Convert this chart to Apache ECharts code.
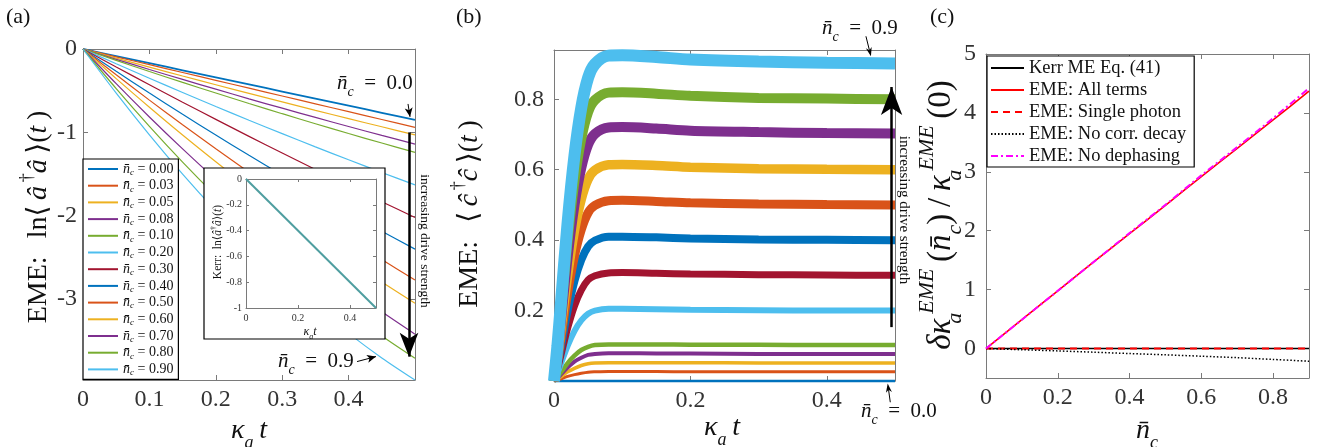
<!DOCTYPE html>
<html><head><meta charset="utf-8">
<script src="https://cdn.jsdelivr.net/npm/echarts@6/dist/echarts.min.js"></script>
<style>html,body{margin:0;padding:0;background:#fff}#c{width:1324px;height:447px}</style>
</head><body><div id="c"></div>
<script>
const FONT = '"Liberation Serif","DejaVu Serif",serif';
const AX = '#7a7a7a', TXT = '#333', INK = '#111';

// ---------- panel (a) ----------
const ncLabels = ['0.00','0.03','0.05','0.08','0.10','0.20','0.30','0.40','0.50','0.60','0.70','0.80','0.90'];
const colors = ['#0072BD','#D95319','#EDB120','#7E2F8E','#77AC30','#4DBEEE','#A2142F','#0072BD','#D95319','#EDB120','#7E2F8E','#77AC30','#4DBEEE'];
const tA = [0,0.05,0.1,0.15,0.2,0.25,0.3,0.35,0.4,0.45,0.5];
const a000 = [0,-0.085,-0.17,-0.255,-0.34,-0.425,-0.51,-0.595,-0.68,-0.765,-0.85];
const a003 = [0,-0.094,-0.188,-0.282,-0.376,-0.47,-0.564,-0.658,-0.752,-0.846,-0.94];
const a005 = [0,-0.109,-0.217,-0.324,-0.429,-0.533,-0.635,-0.736,-0.835,-0.933,-1.03];
const a008 = [0,-0.124,-0.246,-0.365,-0.482,-0.598,-0.710,-0.821,-0.930,-1.036,-1.14];
const a010 = [0,-0.136,-0.270,-0.400,-0.528,-0.654,-0.776,-0.896,-1.014,-1.128,-1.24];
const a020 = [0,-0.177,-0.351,-0.522,-0.689,-0.854,-1.015,-1.174,-1.329,-1.481,-1.63];
const a030 = [0,-0.216,-0.428,-0.638,-0.844,-1.048,-1.248,-1.446,-1.640,-1.832,-2.02];
const a040 = [0,-0.267,-0.528,-0.783,-1.032,-1.275,-1.512,-1.743,-1.968,-2.187,-2.40];
const a050 = [0,-0.310,-0.613,-0.909,-1.197,-1.478,-1.751,-2.017,-2.275,-2.526,-2.77];
const a060 = [0,-0.355,-0.698,-1.031,-1.352,-1.663,-1.962,-2.251,-2.528,-2.795,-3.05];
const a070 = [0,-0.416,-0.815,-1.198,-1.565,-1.915,-2.249,-2.566,-2.867,-3.152,-3.42];
const a080 = [0,-0.475,-0.928,-1.357,-1.762,-2.145,-2.504,-2.841,-3.154,-3.443,-3.71];
const a090 = [0,-0.529,-1.029,-1.500,-1.941,-2.353,-2.735,-3.088,-3.411,-3.705,-3.97];
const aSeries = [a000,a003,a005,a008,a010,a020,a030,a040,a050,a060,a070,a080,a090];
const aXTicks = [0,0.1,0.2,0.3,0.4];
const aYTicks = [0,-1,-2,-3];

// inset (Kerr)
const kerrT = [0,0.5];
const kerrV = [0,-1];
const insXTicks = [0,0.2,0.4];
const insYTicks = [0,-0.2,-0.4,-0.6,-0.8,-1];

// ---------- panel (b) ----------
const tB = [0,0.005,0.01,0.02,0.03,0.04,0.05,0.06,0.08,0.1,0.15,0.2,0.3,0.4,0.5];
const b000 = [0,0,0,0,0,0,0,0,0,0,0,0,0,0,0];
const b003 = [0,0.003,0.006,0.013,0.018,0.022,0.025,0.026,0.027,0.027,0.027,0.026,0.026,0.026,0.026];
const b005 = [0,0.006,0.012,0.026,0.036,0.044,0.049,0.051,0.052,0.052,0.052,0.052,0.051,0.051,0.051];
const b008 = [0,0.008,0.018,0.038,0.055,0.066,0.074,0.077,0.079,0.079,0.078,0.078,0.077,0.077,0.077];
const b010 = [0,0.011,0.024,0.051,0.072,0.088,0.097,0.102,0.104,0.104,0.104,0.103,0.103,0.102,0.102];
const b020 = [0,0.022,0.048,0.100,0.142,0.172,0.191,0.200,0.205,0.205,0.204,0.202,0.201,0.200,0.200];
const b030 = [0,0.033,0.072,0.150,0.213,0.258,0.287,0.299,0.307,0.308,0.306,0.304,0.302,0.301,0.300];
const b040 = [0,0.044,0.096,0.200,0.284,0.344,0.382,0.399,0.410,0.410,0.408,0.405,0.402,0.401,0.400];
const b050 = [0,0.055,0.120,0.250,0.355,0.430,0.478,0.499,0.512,0.513,0.510,0.506,0.503,0.501,0.500];
const b060 = [0,0.066,0.144,0.300,0.426,0.516,0.573,0.599,0.614,0.615,0.612,0.607,0.603,0.601,0.600];
const b070 = [0,0.077,0.169,0.352,0.499,0.605,0.671,0.702,0.720,0.721,0.717,0.711,0.707,0.704,0.703];
const b080 = [0,0.088,0.192,0.400,0.568,0.688,0.764,0.798,0.819,0.820,0.816,0.810,0.804,0.802,0.800];
const b090 = [0,0.099,0.216,0.451,0.640,0.776,0.861,0.900,0.924,0.925,0.920,0.913,0.907,0.904,0.902];
const bSeries = [b000,b003,b005,b008,b010,b020,b030,b040,b050,b060,b070,b080,b090];
const bWidths = [2.5,3,3.5,4,4.5,6,7,8,9,9.5,10,10,12];
const bXTicks = [0,0.2,0.4];
const bYTicks = [0.2,0.4,0.6,0.8];

// ---------- panel (c) ----------
const nC = [0,0.1,0.2,0.3,0.4,0.5,0.6,0.7,0.8,0.9];
const cKerr = [0,0,0,0,0,0,0,0,0,0];
const cAll = [0,0.49,0.98,1.47,1.95,2.43,2.92,3.40,3.88,4.37];
const cSingle = [0,0,0,0,0,0,0,0,0,0];
const cNoCorr = [0,-0.02,-0.04,-0.062,-0.085,-0.107,-0.13,-0.155,-0.185,-0.215];
const cNoDeph = [0,0.49,0.98,1.47,1.96,2.44,2.94,3.42,3.91,4.42];
const cNames = ['Kerr ME Eq. (41)','EME: All terms','EME: Single photon','EME: No corr. decay','EME: No dephasing'];
const cXTicks = [0,0.2,0.4,0.6,0.8];
const cYTicks = [0,1,2,3,4,5];

const zip = (x, y) => x.map((v, i) => [v, y[i]]);

function axis(grid, pos, min, max, opt) {
  opt = opt || {};
  const ax = {
    type: 'value', gridIndex: grid, position: pos, min: min, max: max, z: opt.z || 0,
    axisLine: {show: true, onZero: false, lineStyle: {color: AX, width: 1}},
    axisTick: {show: true, inside: true, length: opt.tick || 5, lineStyle: {color: AX, width: 1}},
    splitLine: {show: false},
    axisLabel: {show: false}
  };
  if (opt.interval) ax.interval = opt.interval;
  if (opt.splitNumber) ax.splitNumber = opt.splitNumber;
  if (opt.ticks) {
    const ticks = opt.ticks;
    ax.axisLabel = {
      show: true, margin: opt.margin, fontFamily: FONT, fontSize: opt.fs, color: TXT,
      showMinLabel: true, showMaxLabel: true,
      formatter: v => { const t = ticks.find(t => Math.abs(t - v) < 1e-6); return t === undefined ? '' : String(t); }
    };
  }
  return ax;
}

const xAxes = [
  axis(0, 'bottom', 0, 0.5, {interval: 0.1, ticks: aXTicks, fs: 24, margin: 8}),
  axis(0, 'top', 0, 0.5, {interval: 0.1}),
  axis(1, 'bottom', 0, 0.5, {interval: 0.2, ticks: bXTicks, fs: 24, margin: 8}),
  axis(1, 'top', 0, 0.5, {interval: 0.2}),
  axis(2, 'bottom', 0, 0.9, {interval: 0.2, ticks: cXTicks, fs: 24, margin: 8}),
  axis(2, 'top', 0, 0.9, {interval: 0.2}),
  axis(3, 'bottom', 0, 0.5, {interval: 0.2, ticks: insXTicks, fs: 10, margin: 5, z: 12, tick: 3}),
  axis(3, 'top', 0, 0.5, {interval: 0.2, z: 12, tick: 3})
];
const yAxes = [
  axis(0, 'left', -3.97, 0, {splitNumber: 4, ticks: aYTicks, fs: 24, margin: 6}),
  axis(0, 'right', -3.97, 0, {splitNumber: 4}),
  axis(1, 'left', 0, 0.94, {interval: 0.2, ticks: bYTicks, fs: 24, margin: 10}),
  axis(1, 'right', 0, 0.94, {interval: 0.2}),
  axis(2, 'left', -0.5, 5, {splitNumber: 5, ticks: cYTicks, fs: 24, margin: 10}),
  axis(2, 'right', -0.5, 5, {splitNumber: 5}),
  axis(3, 'left', -1, 0, {interval: 0.2, ticks: insYTicks, fs: 10, margin: 4, z: 12, tick: 3}),
  axis(3, 'right', -1, 0, {interval: 0.2, z: 12, tick: 3})
];

const arrowLine = {
  silent: true, animation: false, symbol: ['none', 'arrow'],
  label: {show: false}, emphasis: {disabled: true},
  itemStyle: {color: '#000'}, lineStyle: {color: '#000', width: 1, type: 'solid'}
};
function arr(from, to, w, head) {
  const ls = {color: '#000', width: w, type: 'solid'};
  return [{coord: from, symbol: 'none', lineStyle: ls}, {coord: to, symbol: 'arrow', symbolSize: head, lineStyle: ls}];
}

const series = [];
aSeries.forEach((d, i) => {
  const s = {
    name: ncLabels[i], type: 'line', xAxisIndex: 0, yAxisIndex: 0, data: zip(tA, d),
    symbol: 'none', smooth: 0.3, lineStyle: {color: colors[i], width: i === 0 ? 1.8 : 1.2},
    itemStyle: {color: colors[i]}, z: 2
  };
  if (i === 0) {
    s.clip = false;
    s.markLine = Object.assign({}, arrowLine, {data: [
      arr([0.491, -1.0], [0.491, -3.69], 2.5, [14, 24]),
      arr([0.4895, -0.659], [0.4925, -0.814], 1, [6, 9]),
      arr([0.4127, -3.749], [0.4413, -3.689], 1, [6, 9])
    ]});
  }
  series.push(s);
});
bSeries.forEach((d, i) => {
  const s = {
    name: 'b' + ncLabels[i], type: 'line', xAxisIndex: 2, yAxisIndex: 2, data: zip(tB, d),
    symbol: 'none', smooth: 0.3, lineStyle: {color: colors[i], width: bWidths[i]},
    itemStyle: {color: colors[i]}, z: 2
  };
  if (i === 0) {
    s.clip = false;
    s.markLine = Object.assign({}, arrowLine, {data: [
      arr([0.495, 0.153], [0.495, 0.835], 2.5, [16, 28])
    ]});
  }
  series.push(s);
});
series.push(
  {name: cNames[0], type: 'line', xAxisIndex: 4, yAxisIndex: 4, data: zip(nC, cKerr), symbol: 'none',
   lineStyle: {color: '#000', width: 1.6}, itemStyle: {color: '#000'}},
  {name: cNames[1], type: 'line', xAxisIndex: 4, yAxisIndex: 4, data: zip(nC, cAll), symbol: 'none', smooth: 0.3,
   lineStyle: {color: '#FF0000', width: 1.6}, itemStyle: {color: '#FF0000'}},
  {name: cNames[2], type: 'line', xAxisIndex: 4, yAxisIndex: 4, data: zip(nC, cSingle), symbol: 'none',
   lineStyle: {color: '#FF0000', width: 2, type: [7, 5]}, itemStyle: {color: '#FF0000'}},
  {name: cNames[3], type: 'line', xAxisIndex: 4, yAxisIndex: 4, data: zip(nC, cNoCorr), symbol: 'none', smooth: 0.3,
   lineStyle: {color: '#000', width: 1.5, type: [1.5, 2]}, itemStyle: {color: '#000'}},
  {name: cNames[4], type: 'line', xAxisIndex: 4, yAxisIndex: 4, data: zip(nC, cNoDeph), symbol: 'none', smooth: 0.3,
   lineStyle: {color: '#FF00FF', width: 2, type: [7, 3, 2, 3]}, itemStyle: {color: '#FF00FF'}},
  {name: 'Kerr inset', type: 'line', xAxisIndex: 6, yAxisIndex: 6, data: zip(kerrT, kerrV), symbol: 'none',
   lineStyle: {color: '#4f9ea0', width: 2}, itemStyle: {color: '#4f9ea0'}, z: 13}
);

function rich(base, color) {
  const c = color || INK;
  const lh = Math.round(base * 1.5), sl = Math.round(base * 0.66);
  return {
    r: {fontSize: base, fontFamily: FONT, lineHeight: lh, fill: c},
    i: {fontSize: base, fontFamily: FONT, fontStyle: 'italic', lineHeight: lh, fill: c},
    sup: {fontSize: sl, fontFamily: FONT, lineHeight: sl, verticalAlign: 'top', fill: c},
    supi: {fontSize: sl, fontFamily: FONT, fontStyle: 'italic', lineHeight: sl, verticalAlign: 'top', fill: c},
    sub: {fontSize: sl, fontFamily: FONT, fontStyle: 'italic', lineHeight: sl, verticalAlign: 'bottom', fill: c},
    sub0: {fontSize: sl, fontFamily: FONT, fontStyle: 'italic', lineHeight: sl, verticalAlign: 'bottom', fill: c, width: 0.5}
  };
}
function txt(x, y, text, base, opt) {
  opt = opt || {};
  return {
    type: 'text', x: x, y: y, rotation: opt.rot || 0, z: 20, silent: true,
    style: {text: text, rich: rich(base, opt.color), fontFamily: FONT, fontSize: base, fill: opt.color || INK,
            align: opt.align || 'center', verticalAlign: 'middle'}
  };
}
const NB = 'n\u0304';
const TS = '\u2009';
const EQ = '\u2002=\u2002';
const graphics = [
  {type: 'rect', shape: {x: 204, y: 168, width: 181, height: 171}, style: {fill: '#fff', stroke: '#000', lineWidth: 1.2}, z: 10, silent: true},
  txt(6, 17, '{r|(a)}', 22, {align: 'left'}),
  txt(456, 17, '{r|(b)}', 22, {align: 'left'}),
  txt(930, 17, '{r|(c)}', 22, {align: 'left'}),
  txt(39, 217, '{r|EME:' + TS + TS + ' ln⟨' + TS + '}{i|â}{sup|' + TS + '†}{i|â' + TS + '}{r|⟩(}{i|t' + TS + '}{r|)}', 28, {rot: Math.PI / 2}),
  txt(249, 431, '{i|κ}{sub|a}{i|' + TS + 't}', 28),
  txt(470, 214, '{r|EME:' + TS + TS + ' ⟨' + TS + '}{i|ĉ}{sup|' + TS + '†}{i|ĉ' + TS + '}{r|⟩(}{i|t' + TS + '}{r|)}', 28, {rot: Math.PI / 2}),
  txt(722, 428, '{i|κ}{sub|a}{i|' + TS + 't}', 28),
  txt(941, 215, '{i|δκ}{sub0|a}{supi|' + TS + 'EME}{r|' + TS + '(}{i|' + NB + '}{sub|c}{r|)' + TS + '/' + TS + '}{i|κ}{sub0|a}{supi|' + TS + 'EME}{r|' + TS + '(0)}', 33, {rot: Math.PI / 2}),
  txt(1147, 431, '{i|' + NB + '}{sub|c}', 28),
  txt(218, 242, '{r|Kerr:  ln⟨}{i|â}{sup|†}{i|â}{r|⟩(}{i|t}{r|)}', 11.5, {rot: Math.PI / 2}),
  txt(310, 332, '{i|κ}{sub|a}{i|t}', 12),
  txt(337, 83, '{i|' + NB + '}{sub|c}{r|' + EQ + '0.0}', 21, {align: 'left'}),
  txt(278, 361, '{i|' + NB + '}{sub|c}{r|' + EQ + '0.9}', 21, {align: 'left'}),
  txt(425, 241, '{r|increasing drive strength}', 13.5, {rot: -Math.PI / 2}),
  txt(822, 28, '{i|' + NB + '}{sub|c}{r|' + EQ + '0.9}', 21, {align: 'left'}),
  txt(861, 411, '{i|' + NB + '}{sub|c}{r|' + EQ + '0.0}', 21, {align: 'left'}),
  txt(904, 210, '{r|increasing drive strength}', 15, {rot: -Math.PI / 2})
];

const option = {
  animation: false,
  backgroundColor: '#fff',
  textStyle: {fontFamily: FONT},
  grid: [
    {left: 83, top: 49, width: 332, height: 331},
    {left: 554, top: 50, width: 341, height: 331},
    {left: 986, top: 54, width: 323, height: 324},
    {left: 246, top: 179, width: 130, height: 129, z: 11}
  ],
  xAxis: xAxes,
  yAxis: yAxes,
  legend: [
    {
      data: ncLabels, left: 83, top: 159, orient: 'vertical', padding: [3, 5, 2, 4],
      itemWidth: 30, itemHeight: 12, itemGap: 1.7, selectedMode: false,
      itemStyle: {color: 'rgba(0,0,0,0)', borderWidth: 0},
      backgroundColor: '#fff', borderColor: '#000', borderWidth: 1.2,
      formatter: name => '{n|' + NB + '}{c|c}{t| = ' + name + '}',
      textStyle: {fontFamily: FONT, fontSize: 14, color: INK, rich: {
        n: {fontFamily: FONT, fontStyle: 'italic', fontSize: 14, lineHeight: 16, color: INK},
        c: {fontFamily: FONT, fontStyle: 'italic', fontSize: 9, lineHeight: 9, verticalAlign: 'bottom', color: INK},
        t: {fontFamily: FONT, fontSize: 14, lineHeight: 16, color: INK}
      }}
    },
    {
      data: cNames, left: 987, top: 56, orient: 'vertical', padding: [2, 8, 1, 3],
      itemWidth: 33, itemHeight: 14, itemGap: 2, selectedMode: false,
      itemStyle: {color: 'rgba(0,0,0,0)', borderWidth: 0},
      backgroundColor: '#fff', borderColor: '#000', borderWidth: 1.2,
      textStyle: {fontFamily: FONT, fontSize: 18.5, lineHeight: 20, color: INK}
    }
  ],
  graphic: {elements: graphics},
  series: series
};
const chart = echarts.init(document.getElementById('c'));
chart.setOption(option);

// small annotation arrows in (b), placed through the axes of panel (b)
function arrowEls(p0, p1, len, half) {
  const dx = p1[0] - p0[0], dy = p1[1] - p0[1], L = Math.hypot(dx, dy);
  const ux = dx / L, uy = dy / L, nx = -uy, ny = ux;
  const bx = p1[0] - ux * len, by = p1[1] - uy * len;
  const mx = p1[0] - ux * len * 0.7, my = p1[1] - uy * len * 0.7;
  return [
    {type: 'line', shape: {x1: p0[0], y1: p0[1], x2: mx, y2: my}, style: {stroke: '#000', lineWidth: 1}, z: 20, silent: true},
    {type: 'polygon', shape: {points: [p1, [bx + nx * half, by + ny * half], [mx, my], [bx - nx * half, by - ny * half]]},
     style: {fill: '#000'}, z: 20, silent: true}
  ];
}
const fb = {xAxisIndex: 2, yAxisIndex: 2};
const extra = []
  .concat(arrowEls(chart.convertToPixel(fb, [0.4574, 0.979]), chart.convertToPixel(fb, [0.4647, 0.922]), 9, 3))
  .concat(arrowEls(chart.convertToPixel(fb, [0.4931, -0.0604]), chart.convertToPixel(fb, [0.4893, -0.0071]), 9, 3));
chart.setOption({graphic: {elements: graphics.concat(extra)}});
</script>
</body></html>
